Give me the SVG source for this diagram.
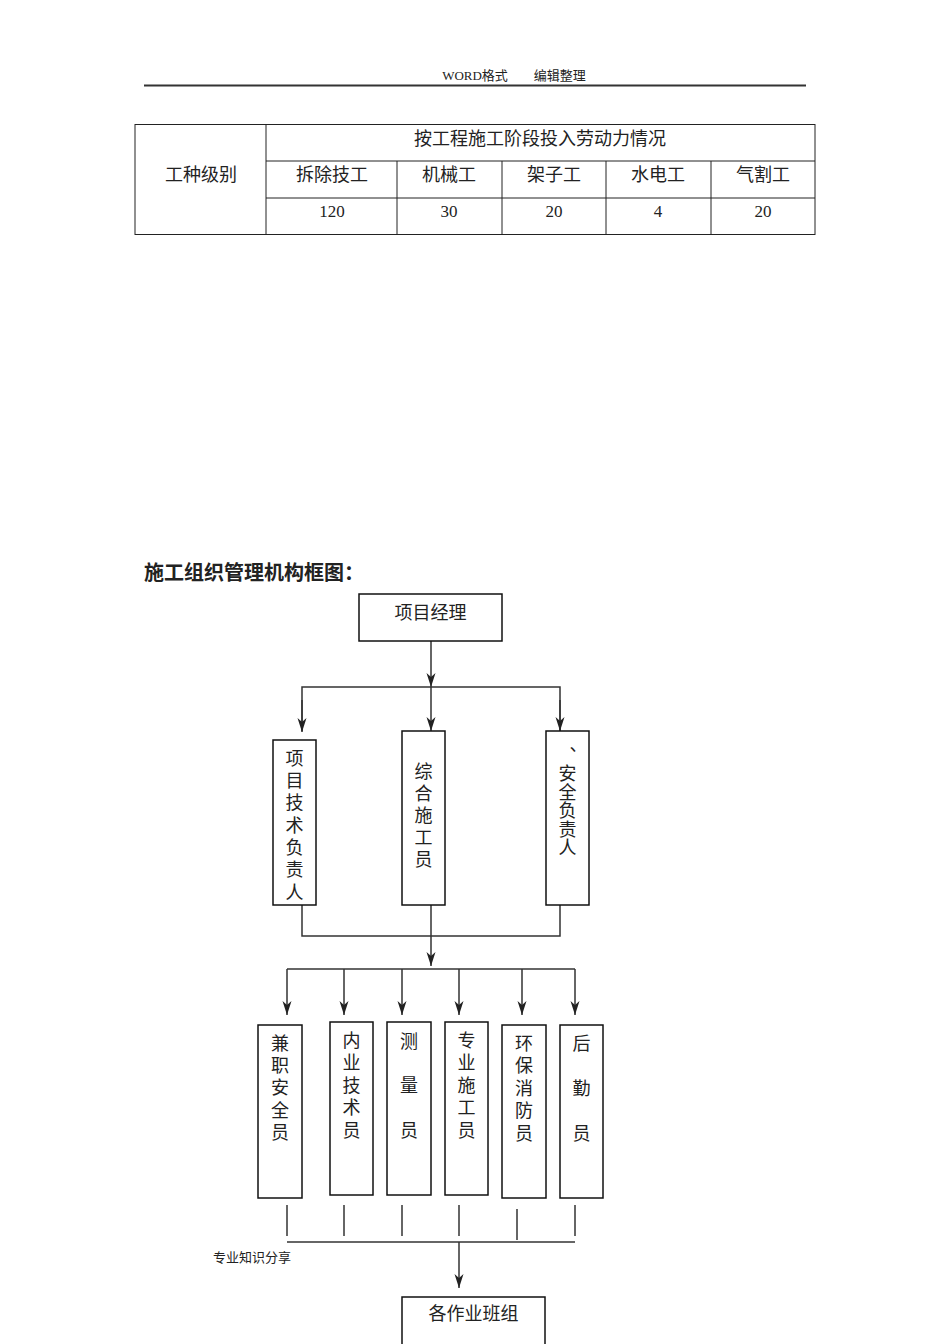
<svg xmlns="http://www.w3.org/2000/svg" width="950" height="1344" viewBox="0 0 950 1344">
<defs>
<style>
.t{font-family:"Liberation Serif","Noto Sans CJK SC",serif;fill:#222;}
.c{font-family:"Noto Sans CJK SC","Liberation Sans",sans-serif;fill:#222;}
.b{fill:#fff;stroke:#111;stroke-width:1.5;}
.tb{fill:none;stroke:#222;stroke-width:1;}
.ln{fill:none;stroke:#333;stroke-width:1.5;}
.v{font-family:"Noto Sans CJK SC",sans-serif;fill:#222;font-size:18px;writing-mode:vertical-rl;text-orientation:upright;}
</style>
<marker id="ar" markerUnits="userSpaceOnUse" markerWidth="16" markerHeight="12" viewBox="-1 -6 16 12" refX="14" refY="0" orient="auto">
<path d="M0,-4.5 L14,0 L0,4.5 L4,0 Z" fill="#222"/>
</marker>
</defs>
<rect width="950" height="1344" fill="#fff"/>

<g id="header">
<text x="514" y="80" class="t" font-size="13" text-anchor="middle">WORD格式　　编辑整理</text>
<line x1="144" y1="85.5" x2="806" y2="85.5" stroke="#333" stroke-width="2"/>
</g>

<g id="table">
<rect x="135" y="124.5" width="680" height="110" class="tb"/>
<line x1="266" y1="124.5" x2="266" y2="234.5" class="tb"/>
<line x1="266" y1="161" x2="815" y2="161" class="tb"/>
<line x1="266" y1="198" x2="815" y2="198" class="tb"/>
<line x1="397" y1="161" x2="397" y2="234.5" class="tb"/>
<line x1="502" y1="161" x2="502" y2="234.5" class="tb"/>
<line x1="606" y1="161" x2="606" y2="234.5" class="tb"/>
<line x1="711" y1="161" x2="711" y2="234.5" class="tb"/>
<text x="540" y="145" class="c" font-size="18" text-anchor="middle">按工程施工阶段投入劳动力情况</text>
<text x="201" y="181" class="c" font-size="18" text-anchor="middle">工种级别</text>
<text x="332" y="181" class="c" font-size="18" text-anchor="middle">拆除技工</text>
<text x="449" y="181" class="c" font-size="18" text-anchor="middle">机械工</text>
<text x="554" y="181" class="c" font-size="18" text-anchor="middle">架子工</text>
<text x="658" y="181" class="c" font-size="18" text-anchor="middle">水电工</text>
<text x="763" y="181" class="c" font-size="18" text-anchor="middle">气割工</text>
<text x="332" y="217" class="t" font-size="17" text-anchor="middle">120</text>
<text x="449" y="217" class="t" font-size="17" text-anchor="middle">30</text>
<text x="554" y="217" class="t" font-size="17" text-anchor="middle">20</text>
<text x="658" y="217" class="t" font-size="17" text-anchor="middle">4</text>
<text x="763" y="217" class="t" font-size="17" text-anchor="middle">20</text>
</g>

<g id="title">
<text x="144" y="580" class="c" font-size="20" font-weight="bold">施工组织管理机构框图：</text>
</g>

<g id="connectors">
<line x1="431" y1="641" x2="431" y2="687" class="ln" marker-end="url(#ar)"/>
<polyline points="302,731 302,687 560,687 560,731" class="ln"/>
<line x1="302" y1="700" x2="302" y2="732" class="ln" marker-end="url(#ar)"/>
<line x1="431" y1="687" x2="431" y2="731" class="ln" marker-end="url(#ar)"/>
<line x1="560" y1="700" x2="560" y2="731" class="ln" marker-end="url(#ar)"/>
<polyline points="302,905 302,936 560,936 560,905" class="ln"/>
<line x1="431" y1="905" x2="431" y2="936" class="ln"/>
<line x1="431" y1="936" x2="431" y2="966" class="ln" marker-end="url(#ar)"/>
<line x1="287" y1="969" x2="575" y2="969" class="ln"/>
<line x1="287" y1="969" x2="287" y2="1015" class="ln" marker-end="url(#ar)"/>
<line x1="344" y1="969" x2="344" y2="1015" class="ln" marker-end="url(#ar)"/>
<line x1="402" y1="969" x2="402" y2="1015" class="ln" marker-end="url(#ar)"/>
<line x1="459" y1="969" x2="459" y2="1015" class="ln" marker-end="url(#ar)"/>
<line x1="522" y1="969" x2="522" y2="1015" class="ln" marker-end="url(#ar)"/>
<line x1="575" y1="969" x2="575" y2="1015" class="ln" marker-end="url(#ar)"/>
<line x1="287" y1="1205" x2="287" y2="1236" class="ln"/>
<line x1="344" y1="1205" x2="344" y2="1236" class="ln"/>
<line x1="402" y1="1205" x2="402" y2="1236" class="ln"/>
<line x1="459" y1="1205" x2="459" y2="1236" class="ln"/>
<line x1="517" y1="1209" x2="517" y2="1240" class="ln"/>
<line x1="575" y1="1205" x2="575" y2="1236" class="ln"/>
<line x1="287" y1="1242" x2="575" y2="1242" class="ln"/>
<line x1="459" y1="1242" x2="459" y2="1288" class="ln" marker-end="url(#ar)"/>
</g>

<g id="n-pm">
<rect x="359" y="594" width="143" height="47" class="b"/>
<text x="430.5" y="619" class="c" font-size="18" text-anchor="middle">项目经理</text>
</g>

<g id="n-tech">
<rect x="273" y="740" width="43" height="165" class="b"/>
<text x="294.5" y="749" class="v" letter-spacing="4.3">项目技术负责人</text>
</g>

<g id="n-zonghe">
<rect x="402" y="731" width="43" height="174" class="b"/>
<text x="423.5" y="762" class="v" letter-spacing="4">综合施工员</text>
</g>

<g id="n-safety">
<rect x="546" y="731" width="43" height="174" class="b"/>
<text x="567.5" y="746" class="v" letter-spacing="0.5">、安全负责人</text>
</g>

<g id="n-jianzhi">
<rect x="258" y="1025" width="44" height="173" class="b"/>
<text x="280" y="1034" class="v" letter-spacing="4.3">兼职安全员</text>
</g>

<g id="n-neiye">
<rect x="330" y="1022" width="43" height="173" class="b"/>
<text x="351.5" y="1031" class="v" letter-spacing="4.5">内业技术员</text>
</g>

<g id="n-celiang">
<rect x="387" y="1022" width="44" height="173" class="b"/>
<text x="409" y="1032" class="v" letter-spacing="26.5">测量员</text>
</g>

<g id="n-zhuanye">
<rect x="445" y="1022" width="43" height="173" class="b"/>
<text x="466.5" y="1031" class="v" letter-spacing="4.5">专业施工员</text>
</g>

<g id="n-huanbao">
<rect x="502" y="1025" width="44" height="173" class="b"/>
<text x="524" y="1034" class="v" letter-spacing="4.5">环保消防员</text>
</g>

<g id="n-houqin">
<rect x="560" y="1025" width="43" height="173" class="b"/>
<text x="581.5" y="1034" class="v" letter-spacing="27">后勤员</text>
</g>

<g id="n-share">
<text x="213" y="1262" class="c" font-size="13">专业知识分享</text>
</g>

<g id="n-teams">
<rect x="402" y="1297" width="143" height="48" class="b"/>
<text x="473.5" y="1320" class="c" font-size="18" text-anchor="middle">各作业班组</text>
</g>
</svg>
